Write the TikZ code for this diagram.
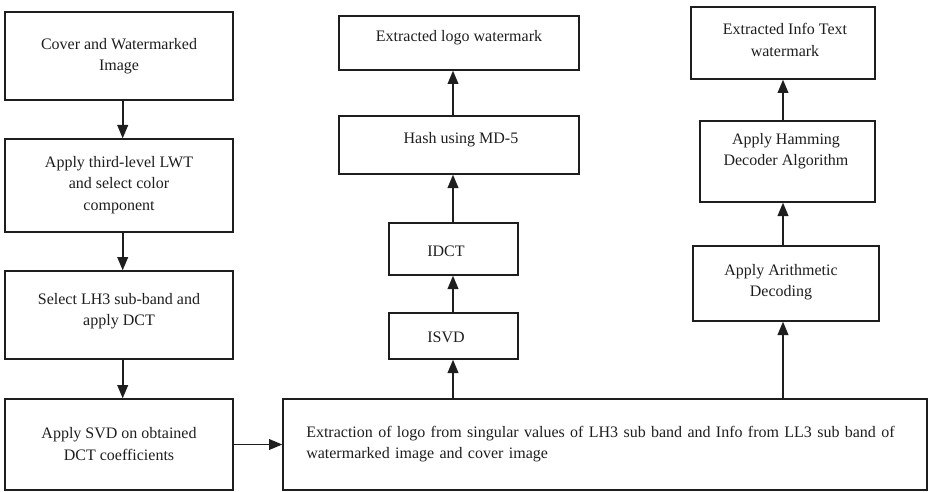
\documentclass[tikz,border=0pt]{standalone}
\usepackage{fontspec}
\setmainfont{Liberation Serif}
\usetikzlibrary{arrows.meta,fit}
\definecolor{ink}{HTML}{1E1E1E}
\begin{document}
\begin{tikzpicture}[x=0.75pt,y=-0.75pt,
  box/.style={draw=ink,line width=1pt,inner sep=0pt},
  txt/.style={align=center,text=ink,font=\fontsize{12}{16}\selectfont,inner sep=0pt},
  arr/.style={draw=ink,line width=1.3pt,-{Triangle[length=10pt,width=8pt]}}]
\useasboundingbox (0,0) rectangle (929,492);
% left column
\node[box,fit={(5,12) (233,100)}] (b1) {};
\node[box,fit={(5,139) (233,232)}] (b2) {};
\node[box,fit={(5,271) (233,359)}] (b3) {};
\node[box,fit={(5,399) (233,490)}] (b4) {};
\node[txt] (t1) at (119,56) {Cover and Watermarked\\Image};
\node[txt] (t2) at (119,185) {Apply third-level LWT\\and select color\\component};
\node[txt] (t3) at (119,311) {Select LH3 sub-band and\\apply DCT};
\node[txt] (t4) at (119,444) {Apply SVD on obtained\\DCT coefficients};
% bottom box
\node[box,fit={(283,399) (927,490)}] (ext) {};
\node[txt,align=left,anchor=west] (text) at (306,444) {\spaceskip=4pt\relax Extraction of logo from singular values of LH3 sub band and Info from LL3 sub band of\\\spaceskip=4pt\relax watermarked image and cover image};
% middle column
\node[box,fit={(339,16) (579,70)}] (logo) {};
\node[box,fit={(339,116) (579,174)}] (hash) {};
\node[box,fit={(389,223) (518,275)}] (idct) {};
\node[box,fit={(389,313) (518,359)}] (isvd) {};
\node[txt] (tlogo) at (459,38) {Extracted logo watermark};
\node[txt] (thash) at (461,140) {Hash using MD-5};
\node[txt] (tidct) at (446,251) {IDCT};
\node[txt] (tisvd) at (446,337) {ISVD};
% right column
\node[box,fit={(691,7) (875,79)}] (info) {};
\node[box,fit={(700,121) (875,202)}] (ham) {};
\node[box,fit={(693,246) (879,321)}] (arith) {};
\node[txt] (tinfo) at (785,40) {Extracted Info Text\\watermark};
\node[txt] (tham) at (786,151) {Apply Hamming\\Decoder Algorithm};
\node[txt] (tarith) at (781,282) {Apply Arithmetic\\Decoding};
% column coordinates for vertical connectors
\coordinate (lc) at (122.7,0);
\coordinate (mc) at (453,0);
\coordinate (rc) at (783,0);
% arrows
\draw[arr] (b1.south -| lc) -- (b2.north -| lc);
\draw[arr] (b2.south -| lc) -- (b3.north -| lc);
\draw[arr] (b3.south -| lc) -- (b4.north -| lc);
\draw[arr] (b4.east) -- (ext.west |- b4.east);
\draw[arr] (ext.north -| mc) -- (isvd.south -| mc);
\draw[arr] (isvd.north -| mc) -- (idct.south -| mc);
\draw[arr] (idct.north -| mc) -- (hash.south -| mc);
\draw[arr] (hash.north -| mc) -- (logo.south -| mc);
\draw[arr] (ext.north -| rc) -- (arith.south -| rc);
\draw[arr] (arith.north -| rc) -- (ham.south -| rc);
\draw[arr] (ham.north -| rc) -- (info.south -| rc);
\end{tikzpicture}
\end{document}
